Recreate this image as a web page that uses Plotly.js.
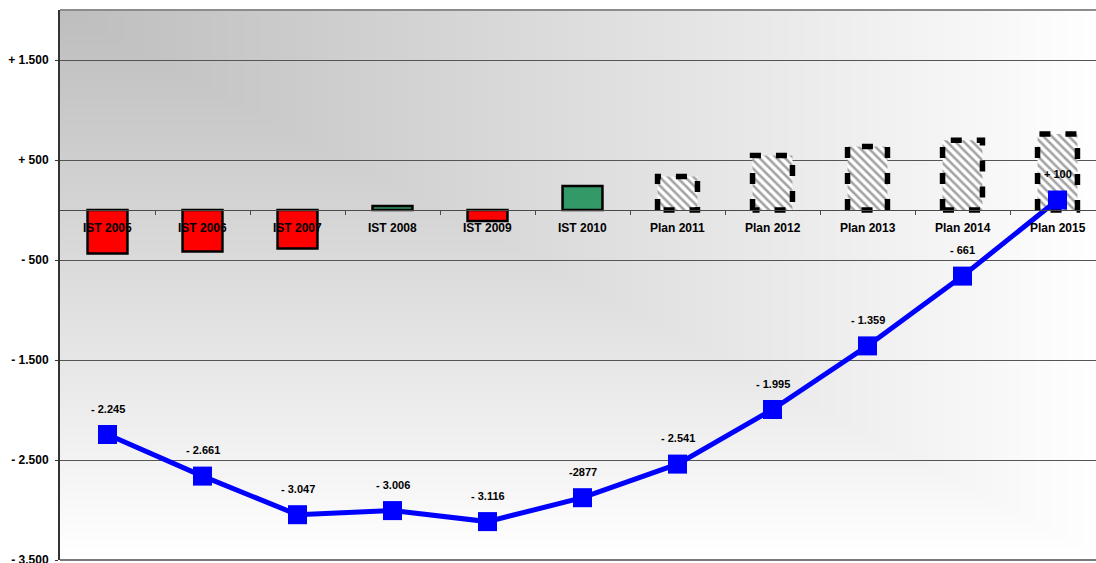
<!DOCTYPE html>
<html>
<head>
<meta charset="utf-8">
<script src="https://cdn.plot.ly/plotly-3.0.1.min.js"></script>
<style>
html,body{margin:0;padding:0;background:#fff;overflow:hidden;}
#chart{width:1106px;height:575px;}
</style>
</head>
<body>
<div id="chart"></div>
<script>
// ---- data ----
const categories = ["IST 2005","IST 2006","IST 2007","IST 2008","IST 2009","IST 2010",
                    "Plan 2011","Plan 2012","Plan 2013","Plan 2014","Plan 2015"];
const isPlan = [false,false,false,false,false,false,true,true,true,true,true];
const deltaValues = [-435, -416, -386, 41, -110, 239, 336, 546, 636, 698, 761];
const cumulativeValues = [-2245, -2661, -3047, -3006, -3116, -2877, -2541, -1995, -1359, -661, 100];
const cumulativeLabels = ["- 2.245","- 2.661","- 3.047","- 3.006","- 3.116","-2877",
                          "- 2.541","- 1.995","- 1.359","- 661","+ 100"];
const yTickValues = [1500, 500, -500, -1500, -2500, -3500];
const yTickLabels = ["+ 1.500","+ 500","- 500","- 1.500","- 2.500","- 3.500"];

// ---- styles ----
const FONT = "Liberation Sans, Arial, sans-serif";
const Y_MIN = -3500, Y_MAX = 2000;
const BAR_W = 0.42;
const xIdx = categories.map((c, i) => i);

// background gradient (corner gradient) as an image
function makeBg(){
  const W = 1045, H = 550;
  const cv = document.createElement("canvas");
  cv.width = W; cv.height = H;
  const ctx = cv.getContext("2d");
  const img = ctx.createImageData(W, H);
  for (let y = 0; y < H; y++) {
    for (let x = 0; x < W; x++) {
      const v = Math.min(1, Math.max(x / W, y / H));
      const g = Math.round(190 + 65 * Math.pow(v, 1.05));
      const k = (y * W + x) * 4;
      img.data[k] = g; img.data[k+1] = g; img.data[k+2] = g; img.data[k+3] = 255;
    }
  }
  ctx.putImageData(img, 0, 0);
  return cv.toDataURL("image/png");
}

const istX = xIdx.filter(i => !isPlan[i]);
const planX = xIdx.filter(i => isPlan[i]);

const istTrace = {
  type: "bar",
  x: istX,
  y: istX.map(i => deltaValues[i]),
  width: BAR_W,
  marker: {
    color: istX.map(i => deltaValues[i] < 0 ? "#ff0000" : "#339966"),
    line: {color: "#000000", width: 2.5}
  },
  hoverinfo: "skip",
  showlegend: false
};

const planTrace = {
  type: "bar",
  x: planX,
  y: planX.map(i => deltaValues[i]),
  width: BAR_W,
  marker: {
    color: "#ffffff",
    line: {width: 0},
    pattern: {shape: "\\", fillmode: "replace", bgcolor: "#ffffff",
              fgcolor: "#a3a3a3", fgopacity: 1, size: 6, solidity: 0.42}
  },
  hoverinfo: "skip",
  showlegend: false
};

// dashed outline for plan bars
const ox = [], oy = [];
planX.forEach((i) => {
  const v = deltaValues[i];
  const l = i - BAR_W / 2, r = i + BAR_W / 2;
  ox.push(l, l, r, r, l, null);
  oy.push(0, v, v, 0, 0, null);
});
const outlineTrace = {
  type: "scatter", mode: "lines", x: ox, y: oy,
  line: {color: "#000000", width: 5.5, dash: "11px,15px"},
  hoverinfo: "skip", showlegend: false, connectgaps: false
};

const lineTrace = {
  type: "scatter", mode: "lines+markers",
  x: xIdx, y: cumulativeValues,
  line: {color: "#0000ff", width: 5},
  marker: {symbol: "square", size: 19, color: "#0000ff"},
  hoverinfo: "skip", showlegend: false
};

const annotations = [];
categories.forEach((c, i) => {
  annotations.push({
    x: i, y: 0, xref: "x", yref: "y", text: "<b>" + c + "</b>", showarrow: false,
    yshift: -18, font: {family: FONT, size: 12, color: "#000"}
  });
});
cumulativeLabels.forEach((t, i) => {
  annotations.push({
    x: i, y: cumulativeValues[i], xref: "x", yref: "y", text: "<b>" + t + "</b>", showarrow: false,
    yshift: 26, font: {family: FONT, size: 11, color: "#000"}
  });
});

const shapes = [
  {type: "line", xref: "paper", yref: "paper", x0: 0, x1: 1, y0: 1, y1: 1,
   line: {color: "#8c8c8c", width: 2}},
  {type: "line", xref: "paper", yref: "paper", x0: 0, x1: 1, y0: 0, y1: 0,
   line: {color: "#7a7a7a", width: 2}}
];

const layout = {
  width: 1106, height: 575,
  margin: {l: 60, r: 1, t: 10, b: 15, pad: 0},
  paper_bgcolor: "#ffffff",
  plot_bgcolor: "rgba(0,0,0,0)",
  showlegend: false,
  barmode: "overlay",
  font: {family: FONT, size: 12, color: "#000"},
  xaxis: {
    range: [-0.5, xIdx.length - 0.5],
    anchor: "free",
    position: (0 - Y_MIN) / (Y_MAX - Y_MIN),
    showline: true, linecolor: "#4a4a4a", linewidth: 1,
    ticks: "outside", ticklen: 4, tickcolor: "#4a4a4a", tickwidth: 1,
    tickvals: xIdx.slice(0, -1).map(i => i + 0.5),
    showticklabels: false, showgrid: false, zeroline: false, fixedrange: true
  },
  yaxis: {
    range: [Y_MIN, Y_MAX],
    tickvals: yTickValues, ticktext: yTickLabels.map(t => "<b>" + t + "</b>"),
    tickfont: {family: FONT, size: 12, color: "#000"},
    ticks: "outside", ticklen: 3, tickcolor: "#333",
    ticklabelstandoff: 4,
    showline: true, linecolor: "#333333", linewidth: 2,
    showgrid: true, gridcolor: "#555555", gridwidth: 1,
    zeroline: false, fixedrange: true, automargin: false
  },
  images: [{
    source: makeBg(), xref: "paper", yref: "paper", x: 0, y: 1,
    sizex: 1, sizey: 1, sizing: "stretch", xanchor: "left", yanchor: "top",
    layer: "below"
  }],
  shapes: shapes,
  annotations: annotations
};

Plotly.newPlot("chart", [istTrace, planTrace, outlineTrace, lineTrace], layout, {staticPlot: true, displayModeBar: false});
</script>
</body>
</html>
